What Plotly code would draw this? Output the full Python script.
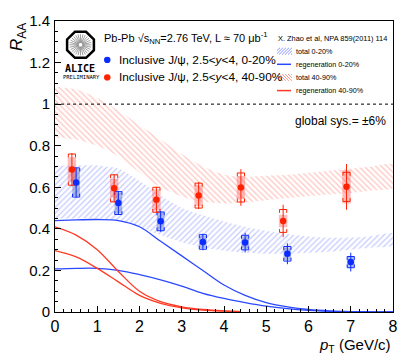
import math
import plotly.graph_objects as go

# ALICE inclusive J/psi R_AA vs pT, 2.5<y<4
pt_020 = [0.5, 1.5, 2.5, 3.5, 4.5, 5.5, 7.0]
raa_020 = [0.623, 0.524, 0.436, 0.337, 0.334, 0.280, 0.240]
stat_020 = [0.073, 0.057, 0.050, 0.040, 0.047, 0.050, 0.045]
sysu_020 = [0.070, 0.055, 0.045, 0.035, 0.035, 0.035, 0.027]
sysc_020 = [0.065, 0.050, 0.040, 0.030, 0.030, 0.030, 0.025]

pt_4090 = [0.4, 1.4, 2.4, 3.4, 4.4, 5.4, 6.9]
raa_4090 = [0.685, 0.595, 0.540, 0.560, 0.599, 0.438, 0.602]
stat_4090 = [0.080, 0.068, 0.062, 0.065, 0.088, 0.078, 0.110]
sysu_4090 = [0.075, 0.065, 0.060, 0.060, 0.070, 0.055, 0.070]
sysc_4090 = [0.060, 0.045, 0.050, 0.050, 0.055, 0.030, 0.080]

# X. Zhao et al, NPA 859(2011) 114 - transport model
pt_model = [0, 0.5, 1, 1.5, 2, 2.5, 3, 3.5, 4, 4.5, 5, 5.5, 6, 6.5, 7, 7.5, 8]
tot020_hi = [0.705, 0.705, 0.705, 0.69, 0.63, 0.56, 0.50, 0.465, 0.435, 0.41, 0.39, 0.375, 0.363, 0.357, 0.358, 0.366, 0.378]
tot020_lo = [0.45, 0.45, 0.45, 0.44, 0.41, 0.37, 0.335, 0.31, 0.295, 0.285, 0.28, 0.28, 0.285, 0.29, 0.30, 0.31, 0.32]
tot4090_hi = [1.085, 1.07, 1.03, 0.97, 0.90, 0.83, 0.76, 0.70, 0.66, 0.65, 0.655, 0.66, 0.67, 0.68, 0.69, 0.70, 0.71]
tot4090_lo = [0.84, 0.83, 0.80, 0.75, 0.67, 0.60, 0.555, 0.53, 0.522, 0.528, 0.538, 0.548, 0.557, 0.565, 0.573, 0.585, 0.595]
regen020_hi = [0.44, 0.443, 0.445, 0.44, 0.41, 0.34, 0.27, 0.20, 0.13, 0.08, 0.045, 0.025, 0.012, 0.005, 0.002, 0.001, 0.0]
regen020_lo = [0.207, 0.21, 0.21, 0.20, 0.18, 0.155, 0.125, 0.09, 0.065, 0.045, 0.028, 0.016, 0.008, 0.003, 0.001, 0.0, 0.0]
pt_regen4090 = [0, 0.5, 1, 1.5, 2, 2.5, 3, 3.5, 4, 4.4]
regen4090_hi = [0.41, 0.37, 0.30, 0.195, 0.10, 0.05, 0.025, 0.012, 0.005, 0.002]
regen4090_lo = [0.295, 0.265, 0.21, 0.145, 0.08, 0.042, 0.02, 0.009, 0.004, 0.002]

BLUE = "#0a2cff"
RED = "#ff2200"
BLUE_LINE = "#2a48ff"
RED_LINE = "#ff3a24"
FONT = "Liberation Sans, Arial, sans-serif"

# plot frame in pixels (for placing the decorations)
L, R, T, B = 55, 393, 13, 312


def px(x):
    return (x - L) / (R - L)


def py(y):
    return (B - y) / (B - T)


def band(x, lo, hi, color, shape):
    return go.Scatter(x=x + x[::-1], y=hi + lo[::-1], mode="lines", fill="toself",
                      line=dict(width=0, shape="spline", smoothing=0.6),
                      fillcolor="rgba(0,0,0,0)",
                      fillpattern=dict(shape=shape, fgcolor=color, bgcolor="rgba(0,0,0,0)",
                                       size=4, solidity=0.3),
                      hoverinfo="skip", showlegend=False)


def curve(x, y, color):
    return go.Scatter(x=x, y=y, mode="lines", line=dict(color=color, width=1.3, shape="spline"),
                      hoverinfo="skip", showlegend=False)


def filled_boxes(x, y, e, w, color):
    xs, ys = [], []
    for xi, yi, ei in zip(x, y, e):
        xs += [xi - w, xi + w, xi + w, xi - w, xi - w, None]
        ys += [yi - ei, yi - ei, yi + ei, yi + ei, yi - ei, None]
    return go.Scatter(x=xs, y=ys, mode="lines", fill="toself", fillcolor=color,
                      line=dict(width=0), hoverinfo="skip", showlegend=False)


def brackets(x, y, e, w, color, d=0.016):
    xs, ys = [], []
    for xi, yi, ei in zip(x, y, e):
        t, b = yi + ei, yi - ei
        xs += [xi - w, xi - w, xi + w, xi + w, None, xi - w, xi - w, xi + w, xi + w, None]
        ys += [t - d, t, t, t - d, None, b + d, b, b, b + d, None]
    return go.Scatter(x=xs, y=ys, mode="lines", line=dict(color=color, width=1),
                      hoverinfo="skip", showlegend=False)


def points(x, y, e, color):
    return go.Scatter(x=x, y=y, mode="markers",
                      marker=dict(color=color, size=6.5),
                      error_y=dict(type="data", array=e, color=color, thickness=1, width=0),
                      showlegend=False)


fig = go.Figure()
fig.add_trace(band(pt_model, tot4090_lo, tot4090_hi, "#ff8a80", "\\"))
fig.add_trace(band(pt_model, tot020_lo, tot020_hi, "#8a96ff", "/"))
fig.add_trace(curve(pt_model, regen020_hi, BLUE_LINE))
fig.add_trace(curve(pt_model, regen020_lo, BLUE_LINE))
fig.add_trace(curve(pt_regen4090, regen4090_hi, RED_LINE))
fig.add_trace(curve(pt_regen4090, regen4090_lo, RED_LINE))

fig.add_trace(filled_boxes(pt_020, raa_020, sysc_020, 0.09, "rgba(40,60,170,0.35)"))
fig.add_trace(filled_boxes(pt_4090, raa_4090, sysc_4090, 0.1, "rgba(255,70,70,0.35)"))
fig.add_trace(brackets(pt_020, raa_020, sysu_020, 0.085, BLUE))
fig.add_trace(brackets(pt_4090, raa_4090, sysu_4090, 0.085, RED))
fig.add_trace(points(pt_020, raa_020, stat_020, BLUE))
fig.add_trace(points(pt_4090, raa_4090, stat_4090, RED))

# dotted line at R_AA = 1
fig.add_shape(type="line", xref="x", yref="y", x0=0, x1=8, y0=1, y1=1,
              line=dict(color="black", width=1, dash="dot"))

ann = []
ann.append(dict(text="<i>R</i><sub>AA</sub>", x=px(18), y=py(13), textangle=-90,
                xanchor="center", yanchor="top", font=dict(size=17)))
ann.append(dict(text="<i>p</i><sub>T</sub> (GeV/c)", x=px(393), y=py(346),
                xanchor="right", yanchor="middle", font=dict(size=15)))
ann.append(dict(text="Pb-Pb √s<sub>NN</sub>=2.76 TeV, L ≈ 70 μb<sup>-1</sup>", x=px(102), y=py(30),
                xanchor="left", yanchor="middle", font=dict(size=11)))
ann.append(dict(text="Inclusive J/ψ, 2.5&lt;<i>y</i>&lt;4, 0-20%", x=px(117), y=py(53),
                xanchor="left", yanchor="middle", font=dict(size=11.8)))
ann.append(dict(text="Inclusive J/ψ, 2.5&lt;<i>y</i>&lt;4, 40-90%", x=px(117), y=py(71),
                xanchor="left", yanchor="middle", font=dict(size=11.8)))
ann.append(dict(text="X. Zhao et al, NPA 859(2011) 114", x=px(276), y=py(31),
                xanchor="left", yanchor="middle", font=dict(size=7.4)))
model_keys = ["total 0-20%", "regeneration 0-20%", "total 40-90%", "regeneration 40-90%"]
for i, k in enumerate(model_keys):
    ann.append(dict(text=k, x=px(294), y=py(44 + 13.5 * i), xanchor="left", yanchor="middle",
                    font=dict(size=7.2)))
ann.append(dict(text="global sys.= ±6%", x=px(388), y=py(116), xanchor="right", yanchor="middle",
                font=dict(size=12)))
ann.append(dict(text="<b>ALICE</b>", x=px(80), y=py(62), xanchor="center", yanchor="middle",
                font=dict(size=10, family="DejaVu Sans Mono")))
ann.append(dict(text="PRELIMINARY", x=px(81), y=py(71), xanchor="center", yanchor="middle",
                font=dict(size=5.5, family="DejaVu Sans Mono")))
for a in ann:
    a.update(xref="paper", yref="paper", showarrow=False)
    a["font"].setdefault("family", FONT)
    a["font"].setdefault("color", "black")

shapes = []
# legend markers for the data
for yy, c in [(53, BLUE), (71, RED)]:
    shapes.append(dict(type="circle", xref="paper", yref="paper", x0=px(104), x1=px(110.5),
                       y0=py(yy + 3.2), y1=py(yy - 3.2), fillcolor=c, line=dict(width=0)))


# hatched swatches for the model bands
def swatch(y0, color, forward):
    x0, x1, h = 277, 292, 7
    segs = []
    for s in range(-h, x1 - x0 + 1, 3):
        a, b = s, s + h
        ya, yb = 0, h
        if a < 0:
            ya, a = -a, 0
        if b > x1 - x0:
            yb, b = h - (b - (x1 - x0)), x1 - x0
        if forward:
            p0, p1 = (x0 + a, y0 + h - ya), (x0 + b, y0 + h - yb)
        else:
            p0, p1 = (x0 + a, y0 + ya), (x0 + b, y0 + yb)
        segs.append("M%.4f,%.4f L%.4f,%.4f" % (px(p0[0]), py(p0[1]), px(p1[0]), py(p1[1])))
    return dict(type="path", xref="paper", yref="paper", path=" ".join(segs),
                line=dict(color=color, width=0.8))


shapes.append(swatch(40.5, "#7080ff", True))
shapes.append(swatch(67.5, "#ff8070", False))
shapes.append(dict(type="line", xref="paper", yref="paper", x0=px(277), x1=px(291),
                   y0=py(57.5), y1=py(57.5), line=dict(color=BLUE_LINE, width=1.5)))
shapes.append(dict(type="line", xref="paper", yref="paper", x0=px(277), x1=px(291),
                   y0=py(84.5), y1=py(84.5), line=dict(color=RED_LINE, width=1.5)))

# ALICE logo: octagon with a starburst
cx, cy, r = 80.5, 37.5, 14.5
oct_pts = [(cx + r * math.cos(math.radians(22.5 + 45 * k)), cy + r * math.sin(math.radians(22.5 + 45 * k)))
           for k in range(8)]
path = "M" + " L".join("%.4f,%.4f" % (px(a), py(b)) for a, b in oct_pts) + " Z"
shapes.append(dict(type="path", xref="paper", yref="paper", path=path,
                   line=dict(color="black", width=2.5)))
star = []
for k in range(28):
    ang = math.radians(k * 360 / 28)
    star.append("M%.4f,%.4f L%.4f,%.4f" % (px(cx + 2 * math.cos(ang)), py(cy + 2 * math.sin(ang)),
                                          px(cx + 11 * math.cos(ang)), py(cy + 11 * math.sin(ang))))
shapes.append(dict(type="path", xref="paper", yref="paper", path=" ".join(star),
                   line=dict(color="#777777", width=0.7)))

for s in shapes:
    fig.add_shape(**s)

axis_common = dict(showline=True, linecolor="black", linewidth=1, mirror=True, showgrid=False,
                   zeroline=False, ticks="inside", tickcolor="black", ticklen=6, tickwidth=1)
fig.update_xaxes(range=[0, 8], tickvals=list(range(9)), tickfont=dict(size=16, family=FONT, color="black"),
                 minor=dict(dtick=0.2, ticks="inside", ticklen=3, tickcolor="black"), **axis_common)
fig.update_yaxes(range=[0, 1.4], tickvals=[0, 0.2, 0.4, 0.6, 0.8, 1.0, 1.2, 1.4],
                 ticktext=["0", "0.2", "0.4", "0.6", "0.8", "1", "1.2", "1.4"],
                 tickfont=dict(size=15, family=FONT, color="black"), ticklabelstandoff=1,
                 minor=dict(dtick=0.05, ticks="inside", ticklen=3, tickcolor="black"), **axis_common)
fig.update_layout(width=415, height=361, margin=dict(l=L, r=415 - R, t=T, b=361 - B),
                  paper_bgcolor="white", plot_bgcolor="white", annotations=ann,
                  showlegend=False, font=dict(family=FONT))
fig.write_html("out.html", config={"displayModeBar": False},
               post_script="document.body.style.margin='0';")
